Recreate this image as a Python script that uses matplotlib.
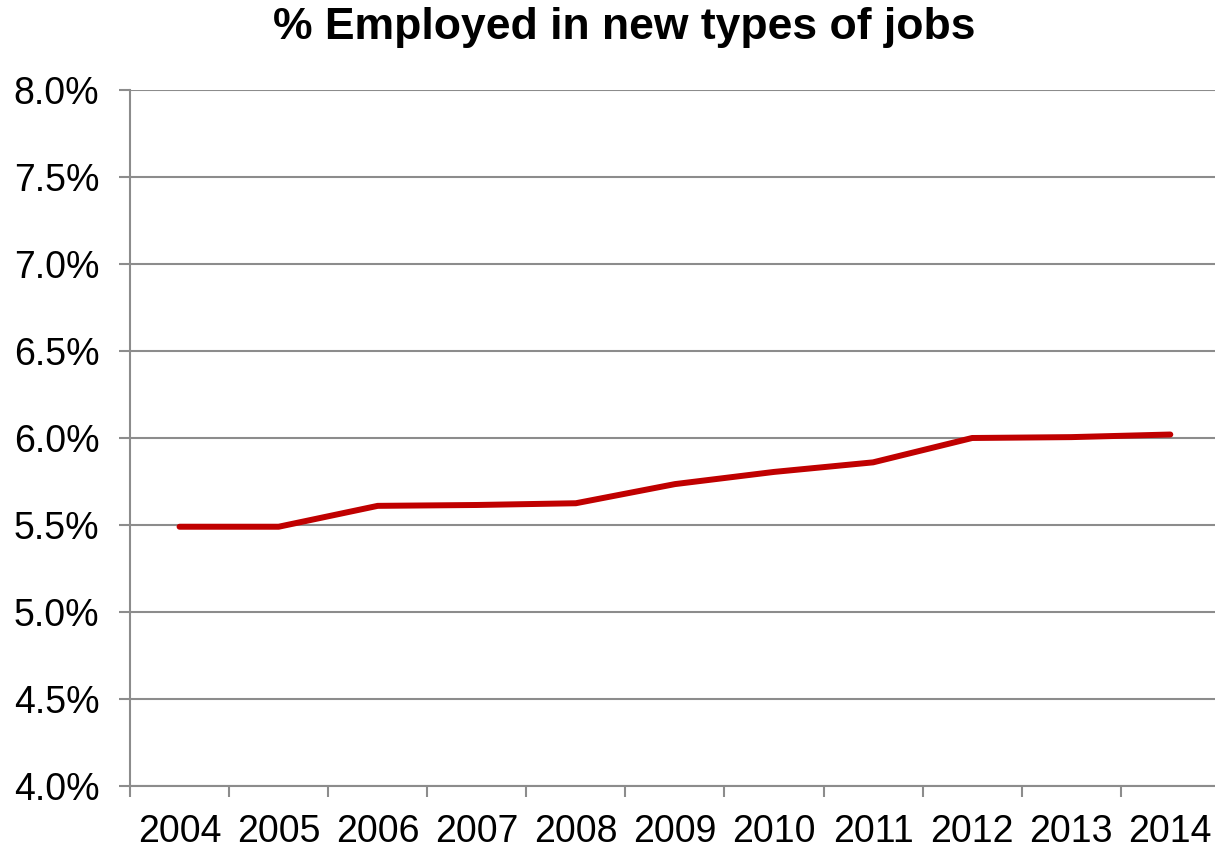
import matplotlib.pyplot as plt
import numpy as np

years = ['2004', '2005', '2006', '2007', '2008', '2009', '2010', '2011', '2012', '2013', '2014']
pct_new_jobs = [5.49, 5.49, 5.61, 5.615, 5.625, 5.735, 5.805, 5.86, 6.0, 6.005, 6.02]
y_ticks = [4.0, 4.5, 5.0, 5.5, 6.0, 6.5, 7.0, 7.5, 8.0]

plt.rcParams['font.family'] = ['Liberation Sans', 'DejaVu Sans']
grey = '#8c8c8c'

fig = plt.figure(figsize=(12.15, 8.48), dpi=100)
ax = fig.add_axes([0.107, 0.0731, 0.897, 0.8208])

x = np.arange(len(years))
ax.plot(x, pct_new_jobs, color='#c00000', linewidth=4.3, solid_capstyle='round', zorder=3)

ax.set_xlim(-0.5, len(years) - 0.5)
ax.set_ylim(4.0, 8.0)
ax.set_yticks(y_ticks)
ax.set_yticklabels([f'{v:.1f}%' for v in y_ticks], fontsize=27)
ax.set_xticks(x)
ax.set_xticklabels(years, fontsize=27)
ax.set_xticks(np.arange(-0.5, len(years)), minor=True)
ax.tick_params(axis='x', which='major', length=0, pad=20)
ax.tick_params(axis='x', which='minor', length=8, width=1.5, color=grey)
ax.tick_params(axis='y', length=8, width=1.5, color=grey, pad=14)

ax.grid(axis='y', color=grey, linewidth=1.5)
ax.set_axisbelow(True)
for s in ['top', 'right']:
    ax.spines[s].set_visible(False)
for s in ['left', 'bottom']:
    ax.spines[s].set_color(grey)
    ax.spines[s].set_linewidth(1.5)

fig.suptitle('% Employed in new types of jobs', fontsize=32, fontweight='bold', x=0.514, y=0.967, va='center')

fig.savefig('out.png', dpi=100)
